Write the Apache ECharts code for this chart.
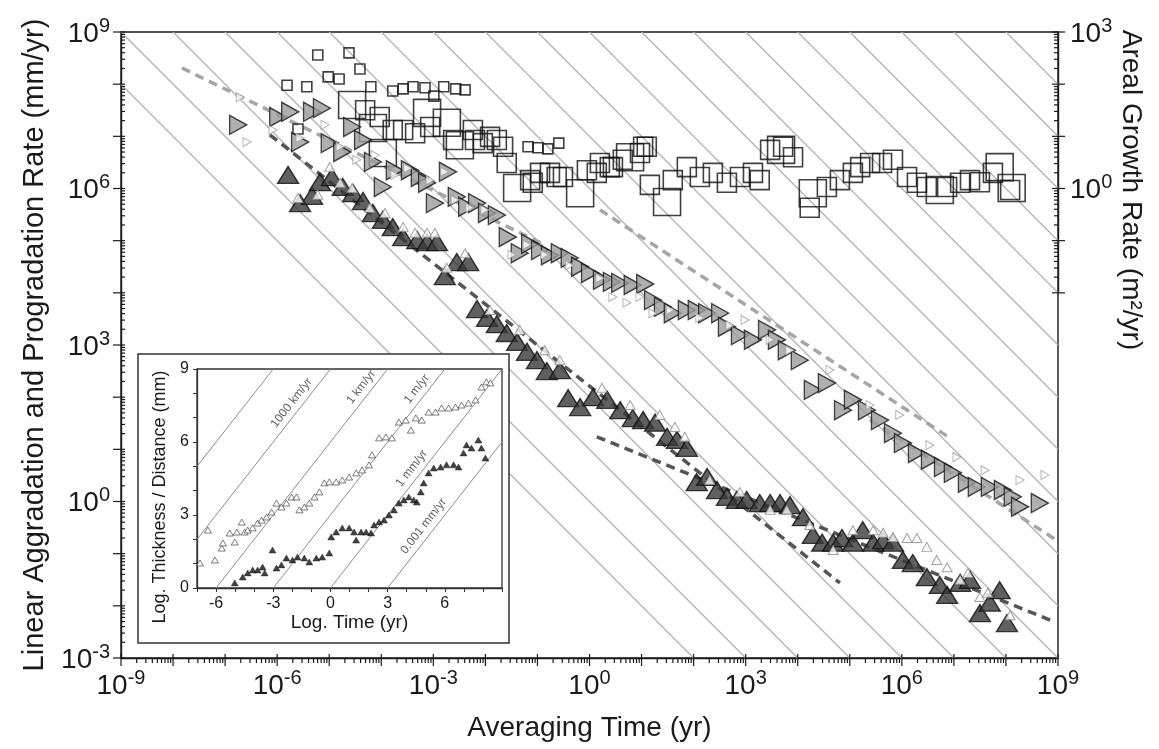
<!DOCTYPE html>
<html>
<head>
<meta charset="utf-8">
<script src="https://cdn.jsdelivr.net/npm/echarts@6/dist/echarts.min.js"></script>
<style>
html, body { margin: 0; padding: 0; background: #fff; }
#main { width: 1159px; height: 749px; }
</style>
</head>
<body>
<div id="main"></div>
<script>
// values are log10: [averaging time (yr), rate]
// areal growth rate (m2/yr), open squares, three sizes
var squaresSmall = [[-5.22,2.56],[-4.62,2.60],[-4.41,2.29],[-5.02,2.14],[-4.81,2.10],[-5.81,1.98],[-5.43,1.95],
  [-4.20,1.95],[-3.78,1.87],[-3.58,1.91],[-3.39,1.95],[-3.16,1.93],[-2.99,1.77],[-2.80,1.95],[-2.57,1.91],
  [-2.39,1.89],[-5.60,1.14],[-1.18,0.80],[-0.99,0.78],[-0.80,0.76],[-0.59,0.87]];
var squaresMid = [[-4.31,1.50],[-4.03,1.37],[-3.78,1.12],[-3.58,1.12],[-3.35,1.06],[-3.06,1.18],[-2.62,0.93],
  [-2.24,1.12],[-2.20,0.93],[-2.05,0.87],[-1.91,0.99],[-1.78,0.93],[-1.66,0.80],[-1.59,0.49],[-1.14,0.16],
  [-1.09,0.11],[-0.95,0.30],[-0.76,0.30],[-0.63,0.22],[-0.51,0.22],[-0.05,0.35],[0.14,0.30],[0.20,0.49],
  [0.39,0.41],[0.45,0.41],[0.64,0.55],[0.97,0.68],[1.03,0.80],[1.10,0.80],[1.16,0.07],[1.60,0.16],[1.87,0.41],
  [2.12,0.22],[2.37,0.30],[2.64,0.11],[2.89,0.22],[3.14,0.30],[3.27,0.16],[3.47,0.74],[3.72,0.80],[3.91,0.60],
  [4.23,-0.37],[4.56,0.03],[4.81,0.16],[5.06,0.30],[5.20,0.41],[5.39,0.49],[5.62,0.49],[5.83,0.55],[6.10,0.22],
  [6.29,0.11],[6.48,0.03],[6.87,0.03],[7.12,0.11],[7.31,0.16],[7.50,0.12],[7.75,0.30],[8.08,-0.03]];
var squaresBig = [[-4.56,1.60],[-4.16,1.16],[-3.97,0.68],[-3.12,1.45],[-2.74,1.26],[-2.49,0.83],[-1.39,0.01],
  [-0.18,-0.09],[0.78,0.60],[1.49,-0.26],[3.68,0.74],[4.29,-0.09],[6.73,-0.03],[7.88,0.41],[8.11,0.01]];

// progradation rate (mm/yr): big grey right triangles and small open ones
var progBig = [[-6.75,7.22],[-5.98,7.37],[-5.75,7.47],[-5.56,6.89],[-5.33,7.47],[-5.14,7.54],[-4.99,6.87],
  [-4.75,6.70],[-4.56,7.18],[-4.35,6.93],[-4.16,6.51],[-3.97,6.03],[-3.74,6.35],[-3.45,6.35],[-3.26,6.22],
  [-3.12,6.11],[-2.97,5.72],[-2.72,6.32],[-2.55,5.84],[-2.35,5.65],[-2.16,5.72],[-1.97,5.53],[-1.78,5.49],
  [-1.57,5.07],[-1.34,4.76],[-1.14,4.94],[-0.95,4.82],[-0.76,4.72],[-0.57,4.76],[-0.38,4.67],[-0.18,4.50],
  [0.01,4.38],[0.24,4.25],[0.43,4.21],[0.59,4.19],[0.83,4.15],[1.07,4.17],[1.22,3.86],[1.41,3.73],[1.60,3.61],
  [1.87,3.67],[2.06,3.67],[2.26,3.61],[2.51,3.61],[2.64,3.35],[2.89,3.19],[3.14,3.10],[3.41,3.29],[3.60,3.10],
  [3.79,2.90],[4.04,2.71],[4.29,2.14],[4.56,2.27],[4.87,1.75],[5.06,1.95],[5.33,1.75],[5.58,1.56],[5.83,1.31],
  [6.02,1.12],[6.29,0.93],[6.54,0.80],[6.79,0.66],[6.98,0.55],[7.25,0.36],[7.44,0.28],[7.69,0.28],[7.94,0.22],
  [8.13,0.09],[8.27,-0.10],[8.65,-0.03]];
var progSmall = [[-6.71,7.75],[-6.58,6.89],[-6.08,7.12],[-5.56,6.97],[-5.08,7.22],[-4.79,6.80],[-4.47,6.55],
  [-4.12,6.64],[-3.74,6.26],[-3.49,6.39],[-3.06,6.16],[-2.78,6.32],[-2.58,5.78],[-2.30,5.63],[-2.01,5.59],
  [-1.49,4.73],[-1.20,4.92],[-0.86,4.73],[-0.38,4.53],[0.20,4.28],[0.45,3.92],[0.72,3.81],[0.97,3.92],
  [1.22,3.61],[1.55,3.67],[2.12,3.52],[2.70,3.38],[2.99,3.48],[3.47,3.10],[3.85,2.90],[4.62,2.52],[5.39,1.85],
  [5.96,1.66],[6.54,1.08],[7.06,0.85],[7.60,0.60],[8.27,0.41],[8.75,0.51]];

// aggradation rate (mm/yr): big dark up triangles and small open ones
var aggBig = [[-5.79,6.26],[-5.56,5.72],[-5.33,5.86],[-5.18,6.12],[-4.95,6.22],[-4.74,6.03],[-4.54,5.91],
  [-4.35,5.76],[-4.16,5.53],[-3.97,5.40],[-3.78,5.26],[-3.58,5.07],[-3.31,5.01],[-3.12,4.97],[-2.93,4.97],
  [-2.78,4.32],[-2.55,4.59],[-2.33,4.59],[-2.16,3.69],[-1.97,3.52],[-1.78,3.40],[-1.59,3.23],[-1.39,3.06],
  [-1.20,2.87],[-1.01,2.71],[-0.82,2.50],[-0.57,2.52],[-0.41,1.98],[-0.18,1.81],[0.07,2.00],[0.34,1.95],
  [0.59,1.75],[0.83,1.60],[1.03,1.56],[1.26,1.51],[1.49,1.24],[1.68,1.18],[1.87,1.03],[2.06,0.37],[2.26,0.47],
  [2.45,0.22],[2.64,0.09],[2.83,0.03],[3.02,0.03],[3.27,-0.03],[3.47,-0.03],[3.66,-0.03],[3.85,-0.07],
  [4.10,-0.30],[4.29,-0.64],[4.47,-0.79],[4.68,-0.79],[4.85,-0.70],[5.06,-0.79],[5.25,-0.55],[5.45,-0.79],
  [5.64,-0.74],[5.83,-0.79],[6.02,-1.12],[6.21,-1.18],[6.48,-1.45],[6.73,-1.60],[6.87,-1.79],[7.12,-1.56],
  [7.31,-1.50],[7.50,-2.14],[7.69,-1.94],[7.88,-1.70],[8.02,-2.33]];
var aggSmall = [[-5.60,5.82],[-5.22,5.88],[-4.99,6.41],[-4.79,6.11],[-4.56,6.01],[-4.22,5.63],[-3.93,5.53],
  [-3.58,5.26],[-3.35,5.15],[-3.12,5.15],[-2.97,5.15],[-2.74,4.48],[-2.39,4.76],[-1.91,3.67],[-1.34,3.29],
  [-0.86,2.90],[-0.57,2.71],[0.24,2.18],[0.78,1.85],[1.35,1.66],[1.64,1.43],[1.83,1.24],[2.31,0.41],[2.89,0.18],
  [3.47,-0.16],[3.79,-0.16],[4.23,-0.45],[4.68,-0.93],[5.06,-0.55],[5.45,-0.55],[5.64,-0.60],[5.83,-0.68],
  [6.10,-0.70],[6.29,-0.70],[6.48,-0.87],[6.67,-1.12],[6.87,-1.26],[7.12,-1.50],[7.27,-1.37],[7.50,-1.83],
  [7.65,-1.75],[8.08,-2.18]];

// fitted trends, [start, end]
var progFits = [[[-7.83,8.31],[-0.86,4.92]], [[0.20,5.59],[6.89,1.24]], [[5.39,1.56],[9.00,-0.76]]];
var aggFits = [[[-6.14,7.03],[4.81,-1.56]], [[0.14,1.24],[8.94,-2.31]]];

// constant-thickness guide lines, log10 thickness (mm)
var isoThickness = [-1,0,1,2,3,4,5,6,7,8,9,10,11,12,13,14,15,16,17,18];

// inset: log10 time (yr) vs log10 thickness / distance (mm)
var insetOpen = [[-6.84,1.03],[-6.43,2.38],[-6.06,1.15],[-5.70,1.64],[-5.64,1.85],[-5.28,2.26],[-5.02,1.89],
  [-4.91,2.30],[-4.65,2.71],[-4.50,2.30],[-4.34,2.38],[-4.08,2.47],[-3.82,2.67],[-3.61,2.79],[-3.35,2.92],
  [-3.09,3.12],[-2.83,3.49],[-2.57,3.33],[-2.31,3.49],[-2.04,3.74],[-1.78,3.74],[-1.63,3.21],[-1.37,3.33],
  [-1.11,3.49],[-0.84,3.74],[-0.58,3.95],[-0.32,4.32],[-0.06,4.36],[0.30,4.36],[0.62,4.44],[0.98,4.56],
  [1.35,4.73],[1.66,4.85],[2.02,5.06],[2.18,5.47],[2.55,6.17],[2.91,6.21],[3.22,6.17],[3.59,6.82],[3.95,6.90],
  [4.22,6.49],[4.48,6.99],[4.79,6.90],[5.15,7.23],[5.52,7.23],[5.83,7.40],[6.20,7.40],[6.56,7.44],[6.88,7.52],
  [7.24,7.60],[7.61,7.73],[7.92,8.26],[8.18,8.47],[8.39,8.43]];
var insetFilled = [[-5.02,0.21],[-4.60,0.45],[-4.34,0.62],[-4.08,0.74],[-3.82,0.74],[-3.56,0.86],[-3.45,0.62],
  [-3.04,1.56],[-2.83,0.82],[-2.57,0.95],[-2.31,1.23],[-1.99,1.15],[-1.73,1.27],[-1.37,1.23],[-1.11,1.07],
  [-0.74,1.23],[-0.43,1.27],[-0.06,1.44],[0.04,2.10],[0.30,2.30],[0.62,2.47],[0.98,2.47],[1.24,2.30],
  [1.35,1.97],[1.61,2.30],[1.87,2.30],[2.13,2.26],[2.29,2.59],[2.55,2.71],[2.81,2.79],[3.07,3.00],[3.33,3.21],
  [3.59,3.49],[3.85,3.62],[4.11,3.74],[4.37,3.62],[4.53,3.53],[4.74,3.95],[4.89,4.32],[5.15,4.73],[5.42,4.93],
  [5.78,4.97],[6.09,5.06],[6.46,5.06],[6.72,4.97],[6.98,5.55],[7.14,5.88],[7.40,5.75],[7.76,6.08],[7.92,5.75],
  [8.13,5.34]];
// inset rate lines: log10 rate (mm/yr), labels and where along log time they sit
var insetRates = [12, 9, 6, 3, 0, -3];
var insetRateNames = ['', '1000 km/yr', '1 km/yr', '1 m/yr', '1 mm/yr', '0.001 mm/yr'];
var insetRateLabelAt = [null, -2.04, 1.61, 4.53, 4.27, 4.89];

var FONT = "'Liberation Sans Narrow', 'Arial Narrow', 'Liberation Sans', Arial, sans-serif";
var INK = '#1a1a1a';

var chart = echarts.init(document.getElementById('main'));

function powLabel(v) {
  return v % 3 === 0 ? '{b|10}{s|' + v + '}' : '';
}
var powRich = {
  b: { fontFamily: FONT, fontSize: 28, lineHeight: 32, color: INK, verticalAlign: 'bottom' },
  s: { fontFamily: FONT, fontSize: 20, lineHeight: 20, color: INK, verticalAlign: 'top' }
};

// log-spaced minor ticks
var minorLogs = [];
for (var d = -9; d < 9; d++) {
  for (var m = 2; m <= 9; m++) minorLogs.push(d + Math.log10(m));
}
function tickSeries(xi, yi, pts, dir, a, b) {
  // dir 'x': vertical marks on a horizontal axis; 'y': horizontal marks
  return {
    type: 'custom', xAxisIndex: xi, yAxisIndex: yi, silent: true, clip: false, z: 5,
    data: pts,
    renderItem: function (params, api) {
      var p = api.coord([api.value(0), api.value(1)]);
      var shape = dir === 'x'
        ? { x1: p[0], y1: p[1] + a, x2: p[0], y2: p[1] + b }
        : { x1: p[0] + a, y1: p[1], x2: p[0] + b, y2: p[1] };
      return { type: 'line', shape: shape, style: { stroke: INK, lineWidth: 1.2 } };
    }
  };
}
var ints = function (lo, hi) { var r = []; for (var i = lo; i <= hi; i++) r.push(i); return r; };
var xMinor = minorLogs.map(function (v) { return [v, -3]; });
var xMajor = ints(-9, 9).map(function (v) { return [v, -3]; });
var yMinor = minorLogs.filter(function (v) { return v > -3; }).map(function (v) { return [-9, v]; });
var yMajor = ints(-3, 9).map(function (v) { return [-9, v]; });
var rMinor = minorLogs.filter(function (v) { return v > -2 && v < 3; }).map(function (v) { return [9, v]; });
var rMajor = ints(-2, 3).map(function (v) { return [9, v]; });

var isoLines = isoThickness.map(function (k) {
  var t0 = Math.max(-9, k - 9), t1 = Math.min(9, k + 3);
  return { coords: [[t0, k - t0], [t1, k - t1]] };
});
var fitLines = progFits.map(function (f) {
  return { coords: f, lineStyle: { color: '#a6a6a6' } };
}).concat(aggFits.map(function (f) {
  return { coords: f, lineStyle: { color: '#555' } };
}));
var insetLines = insetRates.map(function (c) {
  var t0 = Math.max(-7, -c), t1 = Math.min(9, 9 - c);
  return { coords: [[t0, t0 + c], [t1, t1 + c]] };
});
var insetLabels = [];
insetRates.forEach(function (c, i) {
  if (insetRateLabelAt[i] != null) {
    insetLabels.push({ value: [insetRateLabelAt[i], insetRateLabelAt[i] + c + 0.65], name: insetRateNames[i] });
  }
});

var sq = function (data, size, z) {
  return {
    type: 'scatter', xAxisIndex: 1, yAxisIndex: 1, data: data, symbol: 'rect', symbolSize: size, z: z,
    itemStyle: { color: 'rgba(0,0,0,0)', borderColor: '#111', borderWidth: 1.6 }
  };
};

var option = {
  animation: false,
  backgroundColor: '#fff',
  textStyle: { fontFamily: FONT },
  grid: [
    { left: 121, top: 32, width: 937, height: 626, show: true, borderColor: INK, borderWidth: 1.4,
      backgroundColor: 'transparent', outerBoundsMode: 'none' },
    { left: 121, top: 32, width: 937, height: 626 * 5 / 12, outerBoundsMode: 'none' },
    { left: 197, top: 369, width: 305, height: 219, show: true, borderColor: '#333', borderWidth: 1.3,
      z: 11, outerBoundsMode: 'none' }
  ],
  xAxis: [
    { gridIndex: 0, type: 'value', min: -9, max: 9, interval: 1,
      axisLine: { onZero: false, lineStyle: { color: INK, width: 1.4 } }, axisTick: { show: false },
      splitLine: { show: false },
      axisLabel: { formatter: powLabel, rich: powRich, margin: 10, showMinLabel: true, showMaxLabel: true },
      name: 'Averaging Time (yr)', nameLocation: 'middle', nameGap: 56,
      nameTextStyle: { fontFamily: FONT, fontSize: 28, color: INK } },
    { gridIndex: 1, type: 'value', min: -9, max: 9, show: false, axisLine: { onZero: false } },
    { gridIndex: 2, type: 'value', min: -7, max: 9, interval: 1, z: 11,
      axisLine: { onZero: false, lineStyle: { color: '#333', width: 1.3 } },
      axisTick: { length: 4, lineStyle: { color: '#333' } }, splitLine: { show: false },
      axisLabel: { fontSize: 16, color: INK, margin: 8,
        formatter: function (v) { return (v % 3 === 0 && v > -7 && v < 9) ? String(v) : ''; } },
      name: 'Log. Time (yr)', nameLocation: 'middle', nameGap: 24,
      nameTextStyle: { fontFamily: FONT, fontSize: 19, color: INK } }
  ],
  yAxis: [
    { gridIndex: 0, type: 'value', min: -3, max: 9, interval: 1,
      axisLine: { onZero: false, lineStyle: { color: INK, width: 1.4 } }, axisTick: { show: false },
      splitLine: { show: false },
      axisLabel: { formatter: powLabel, rich: powRich, margin: 11, showMinLabel: true, showMaxLabel: true },
      name: 'Linear Aggradation and Progradation Rate (mm/yr)', nameLocation: 'middle', nameGap: 72,
      nameTextStyle: { fontFamily: FONT, fontSize: 29, color: INK } },
    { gridIndex: 1, type: 'value', position: 'right', min: -2, max: 3, interval: 1,
      axisLine: { show: true, onZero: false, lineStyle: { color: INK, width: 1.4 } }, axisTick: { show: false },
      splitLine: { show: false },
      axisLabel: { formatter: powLabel, rich: powRich, margin: 12, showMinLabel: true, showMaxLabel: true } },
    { gridIndex: 2, type: 'value', min: 0, max: 9, interval: 1, z: 11,
      axisLine: { onZero: false, lineStyle: { color: '#333', width: 1.3 } },
      axisTick: { length: 4, lineStyle: { color: '#333' } }, splitLine: { show: false },
      axisLabel: { fontSize: 16, color: INK, margin: 8,
        formatter: function (v) { return v % 3 === 0 ? String(v) : ''; } } }
  ],
  graphic: [
    { type: 'rect', z: 10, shape: { x: 138, y: 354, width: 371, height: 289 },
      style: { fill: '#fff', stroke: '#333', lineWidth: 1.5 } },
    { type: 'text', z: 12, x: 160, y: 497, rotation: Math.PI / 2,
      style: { text: 'Log. Thickness / Distance (mm)', font: '18px ' + FONT, fill: INK,
        align: 'center', verticalAlign: 'middle', textAlign: 'center', textVerticalAlign: 'middle' } },
    { type: 'text', z: 10, x: 1131, y: 190, rotation: -Math.PI / 2,
      style: { text: 'Areal Growth Rate (m\u00b2/yr)', font: '28px ' + FONT, fill: INK,
        align: 'center', verticalAlign: 'middle', textAlign: 'center', textVerticalAlign: 'middle' } }
  ],
  series: [
    { type: 'lines', coordinateSystem: 'cartesian2d', xAxisIndex: 0, yAxisIndex: 0, silent: true, z: 1,
      data: isoLines, lineStyle: { color: '#b3b3b3', width: 1.3, opacity: 1 } },
    { type: 'lines', coordinateSystem: 'cartesian2d', xAxisIndex: 0, yAxisIndex: 0, silent: true, z: 2,
      data: fitLines, lineStyle: { width: 3.5, type: [9, 6], opacity: 1 } },
    sq(squaresSmall, 10, 3),
    sq(squaresMid, 19, 3),
    sq(squaresBig, 27, 3),
    { type: 'scatter', xAxisIndex: 0, yAxisIndex: 0, data: progBig, symbol: 'triangle', symbolRotate: -90,
      symbolSize: [19, 17], z: 3, itemStyle: { color: '#9b9b9b', borderColor: '#1a1a1a', borderWidth: 1.4 } },
    { type: 'scatter', xAxisIndex: 0, yAxisIndex: 0, data: progSmall, symbol: 'triangle', symbolRotate: -90,
      symbolSize: [9, 8], z: 4, itemStyle: { color: '#fff', borderColor: '#a0a0a0', borderWidth: 1 } },
    { type: 'scatter', xAxisIndex: 0, yAxisIndex: 0, data: aggBig, symbol: 'triangle',
      symbolSize: [21, 17], z: 3, itemStyle: { color: '#383838', borderColor: '#111', borderWidth: 1.4 } },
    { type: 'scatter', xAxisIndex: 0, yAxisIndex: 0, data: aggSmall, symbol: 'triangle',
      symbolSize: [10, 9], z: 4, itemStyle: { color: '#fff', borderColor: '#8a8a8a', borderWidth: 1 } },
    tickSeries(0, 0, xMajor, 'x', -4, 8),
    tickSeries(0, 0, xMinor, 'x', 1, 5),
    tickSeries(0, 0, yMajor, 'y', -8, 4),
    tickSeries(0, 0, yMinor, 'y', 0, 4),
    tickSeries(1, 1, rMajor, 'y', -6, 7),
    tickSeries(1, 1, rMinor, 'y', -4, 0),
    // inset
    { type: 'lines', coordinateSystem: 'cartesian2d', xAxisIndex: 2, yAxisIndex: 2, silent: true, z: 12,
      data: insetLines, lineStyle: { color: '#8c8c8c', width: 1, opacity: 1 } },
    { type: 'scatter', xAxisIndex: 2, yAxisIndex: 2, data: insetLabels, symbolSize: 0, z: 12, silent: true,
      label: { show: true, position: 'inside', rotate: 52, formatter: '{b}',
        fontFamily: FONT, fontSize: 12, color: '#333' } },
    { type: 'scatter', xAxisIndex: 2, yAxisIndex: 2, data: insetOpen, symbol: 'triangle', symbolSize: [7, 6],
      z: 12, itemStyle: { color: '#fff', borderColor: '#333', borderWidth: 0.8 } },
    { type: 'scatter', xAxisIndex: 2, yAxisIndex: 2, data: insetFilled, symbol: 'triangle', symbolSize: [7, 6],
      z: 12, itemStyle: { color: '#111', borderColor: '#111', borderWidth: 0.5 } }
  ]
};
chart.setOption(option);
</script>
</body>
</html>
